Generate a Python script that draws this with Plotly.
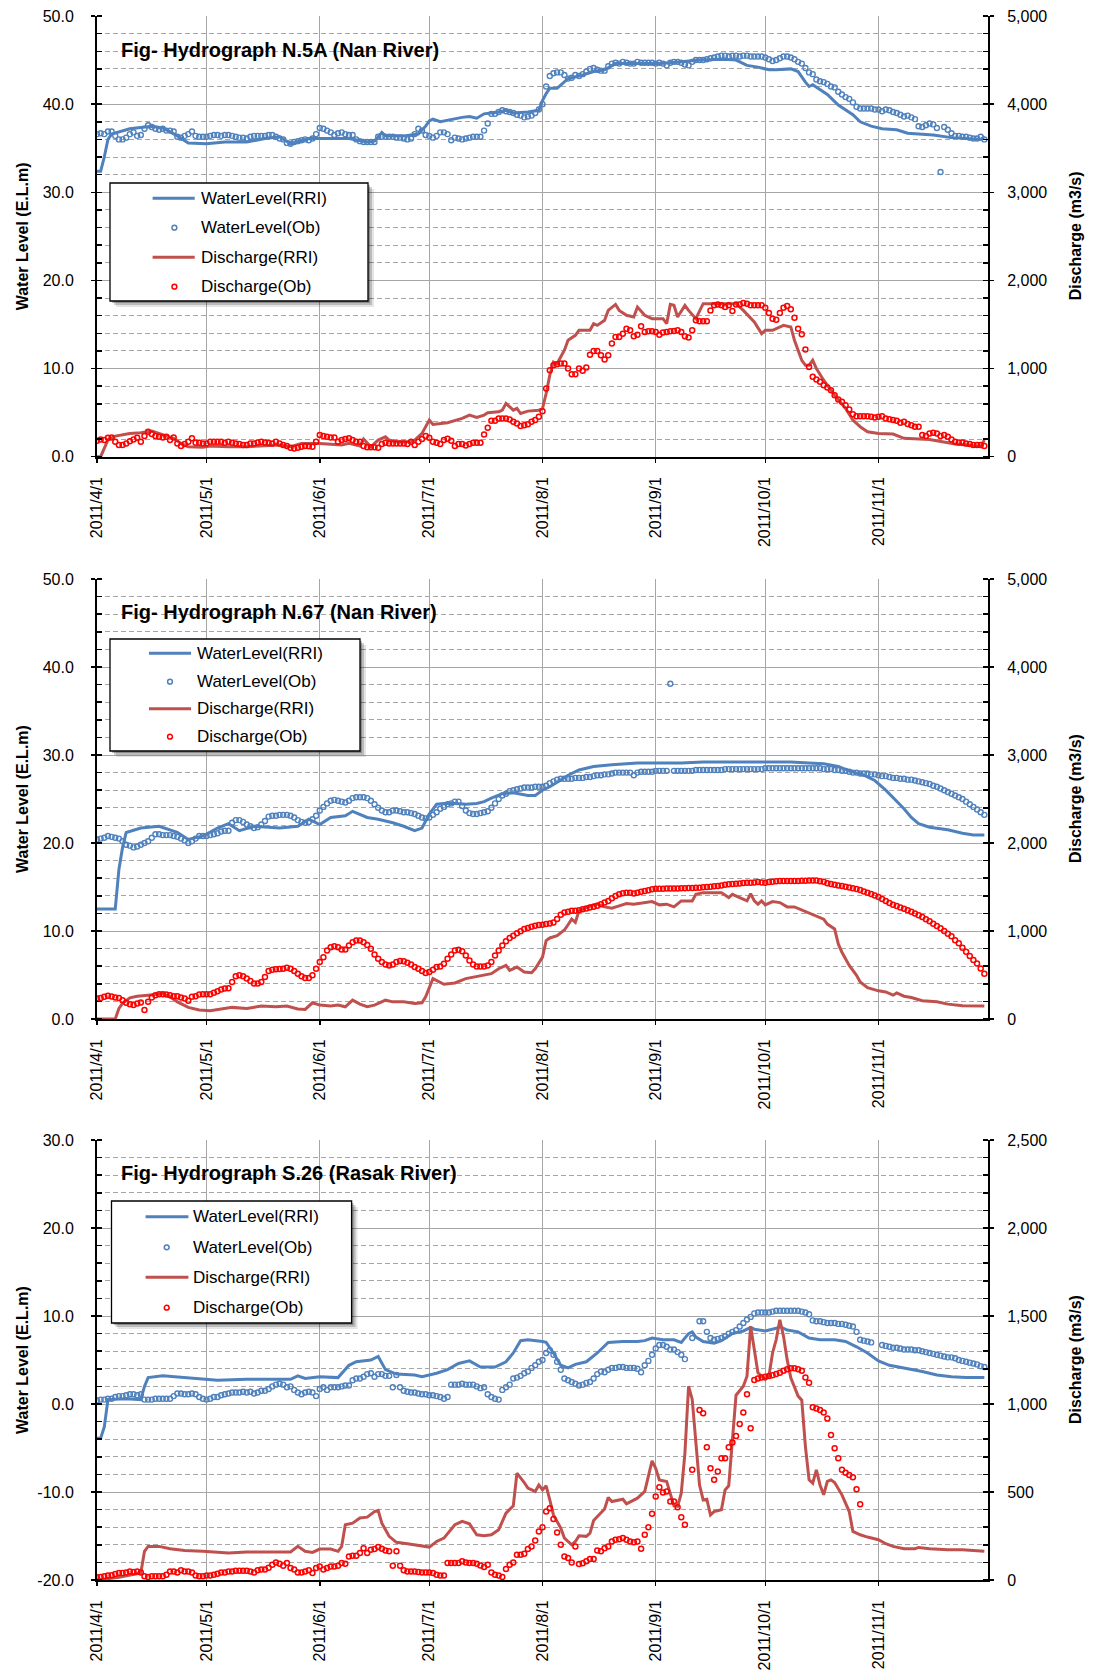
import pandas as pd
import plotly.graph_objects as go

# ---------------- data ----------------
START = "2011-04-01"
END = "2011-12-01"
N_DAYS = 244
month_ticks = ["2011-04-01", "2011-05-01", "2011-06-01", "2011-07-01",
               "2011-08-01", "2011-09-01", "2011-10-01", "2011-11-01"]
month_labels = ["2011/4/1", "2011/5/1", "2011/6/1", "2011/7/1",
                "2011/8/1", "2011/9/1", "2011/10/1", "2011/11/1"]

titles = ["Fig- Hydrograph N.5A (Nan River)",
          "Fig- Hydrograph N.67 (Nan River)",
          "Fig- Hydrograph S.26 (Rasak River)"]
series_names = ["WaterLevel(RRI)", "WaterLevel(Ob)", "Discharge(RRI)", "Discharge(Ob)"]

wl_ticks_a = [0, 10, 20, 30, 40, 50]
wl_labels_a = ["0.0", "10.0", "20.0", "30.0", "40.0", "50.0"]
q_ticks_a = [0, 1000, 2000, 3000, 4000, 5000]
q_labels_a = ["0", "1,000", "2,000", "3,000", "4,000", "5,000"]
wl_ticks_b = [-20, -10, 0, 10, 20, 30]
wl_labels_b = ["-20.0", "-10.0", "0.0", "10.0", "20.0", "30.0"]
q_ticks_b = [0, 500, 1000, 1500, 2000, 2500]
q_labels_b = ["0", "500", "1,000", "1,500", "2,000", "2,500"]

# --- Panel 1 : N.5A ---
p1_wl_rri = [(0,32.4),(1,32.4),(2,34.0),(3,36.0),(4,36.6),(9,37.2),(15,37.5),(18,37.3),(22,36.4),(25,35.6),(30,35.5),(35,35.7),(41,35.7),(46,36.1),(50,36.3),(53,35.5),(58,36.1),(61,36.1),(69,36.1),(74,35.7),(76,35.8),(78,36.8),(79,36.4),(84,36.4),(88,36.6),(90,37.5),(91,38.1),(92,38.3),(94,38.0),(100,38.5),(102,38.6),(104,38.4),(106,38.9),(110,39.1),(112,39.3),(114,39.0),(118,39.1),(121,39.3),(122,40.4),(123,41.2),(124,41.8),(126,41.8),(129,42.9),(133,43.3),(136,43.7),(139,43.9),(142,44.6),(146,44.6),(150,44.6),(154,44.6),(160,44.8),(165,45.0),(172,45.1),(175,45.0),(178,44.4),(181,44.2),(184,43.9),(186,43.9),(190,44.0),(192,43.7),(194,42.5),(195,42.0),(196,42.2),(200,41.1),(203,39.9),(207,38.8),(209,38.0),(212,37.5),(215,37.2),(219,37.1),(222,36.7),(229,36.5),(234,36.2),(242,36.0),(243,36.3)]
p1_q_rri = [(0,0),(1,0),(3,190),(4,215),(5,234),(9,264),(12,272),(15,290),(17,264),(19,234),(21,208),(23,151),(25,113),(29,106),(31,121),(36,113),(41,113),(46,125),(50,132),(53,113),(56,151),(61,151),(67,132),(69,151),(72,121),(73,200),(75,113),(77,189),(79,226),(80,189),(82,170),(86,170),(87,189),(89,264),(90,340),(91,415),(92,366),(96,385),(100,434),(102,472),(104,445),(106,472),(107,498),(110,509),(111,528),(112,604),(114,528),(115,547),(116,490),(118,517),(121,528),(122,547),(123,717),(124,925),(125,1075),(126,1057),(128,1208),(129,1321),(131,1377),(132,1434),(135,1434),(136,1509),(137,1490),(139,1547),(140,1660),(142,1728),(143,1660),(145,1604),(147,1585),(148,1698),(150,1604),(152,1566),(155,1566),(156,1509),(157,1728),(158,1717),(159,1585),(161,1717),(162,1660),(164,1566),(166,1736),(175,1736),(177,1660),(179,1566),(180,1528),(182,1396),(183,1434),(185,1434),(187,1472),(188,1491),(190,1472),(191,1321),(193,1094),(194,1038),(195,1038),(196,1094),(197,1000),(199,868),(202,698),(205,547),(207,415),(209,340),(211,283),(214,264),(218,257),(221,208),(228,196),(231,170),(235,143),(238,132),(242,113),(243,189)]
p1_wl_ob = [
    36.6, 36.7, 36.6, 36.9, 36.9, 36.4, 36.0, 36.0, 36.2, 36.6,
    36.8, 36.4, 36.5, 37.2, 37.6, 37.4, 37.2, 37.1, 37.2, 37.0,
    37.0, 36.9, 36.3, 36.2, 36.4, 36.6, 36.9, 36.4, 36.3, 36.3,
    36.3, 36.4, 36.5, 36.5, 36.4, 36.5, 36.5, 36.4, 36.3, 36.2,
    36.2, 36.1, 36.3, 36.4, 36.4, 36.4, 36.4, 36.5, 36.5, 36.3,
    36.1, 36.0, 35.6, 35.5, 35.7, 35.8, 35.9, 36.0, 35.9, 36.1,
    36.6, 37.3, 37.2, 37.0, 36.8, 36.5, 36.7, 36.8, 36.6, 36.5,
    36.5, 36.0, 35.8, 35.7, 35.7, 35.7, 35.7, 36.3, 36.3, 36.3,
    36.3, 36.3, 36.2, 36.2, 36.1, 36.0, 36.1, 36.6, 37.2, 37.0,
    36.5, 36.4, 36.2, 36.4, 36.8, 36.8, 36.6, 35.9, 36.2, 36.1,
    36.0, 36.1, 36.2, 36.3, 36.3, 36.3, 37.0, 37.8, 38.9, 38.9,
    39.1, 39.3, 39.2, 39.1, 39.0, 38.8, 38.7, 38.5, 38.6, 38.7,
    39.0, 39.4, 40.0, 42.0, 43.2, 43.5, 43.6, 43.6, 43.3, 42.9,
    43.0, 43.3, 43.2, 43.4, 43.7, 44.0, 44.1, 43.9, 43.8, 43.8,
    44.3, 44.6, 44.7, 44.6, 44.8, 44.7, 44.6, 44.6, 44.8, 44.7,
    44.7, 44.7, 44.7, 44.6, 44.7, 44.6, 44.4, 44.7, 44.8, 44.8,
    44.7, 44.5, 44.4, 44.8, 45.0, 45.0, 45.0, 45.1, 45.2, 45.3,
    45.4, 45.5, 45.5, 45.4, 45.5, 45.5, 45.4, 45.5, 45.5, 45.4,
    45.4, 45.4, 45.4, 45.3, 45.1, 44.9, 45.0, 45.2, 45.4, 45.4,
    45.3, 45.1, 44.8, 44.6, 44.1, 43.6, 43.4, 42.8, 42.6, 42.5,
    42.3, 42.0, 41.9, 41.4, 41.1, 40.8, 40.6, 40.2, 39.7, 39.5,
    39.5, 39.5, 39.5, 39.4, 39.4, 39.2, 39.4, 39.3, 39.1, 39.0,
    38.8, 38.6, 38.7, 38.5, 38.3, 37.5, 37.4, 37.6, 37.8, 37.7,
    37.3, 32.3, 37.4, 37.1, 36.7, 36.4, 36.4, 36.3, 36.3, 36.2,
    36.1, 36.1, 36.3, 36.0]
p1_q_ob = [
    181, 196, 189, 215, 219, 170, 132, 132, 151, 175,
    196, 215, 170, 234, 283, 257, 234, 226, 219, 226,
    189, 219, 151, 121, 144, 170, 208, 159, 159, 151,
    151, 170, 170, 170, 170, 159, 170, 159, 151, 144,
    132, 132, 151, 151, 160, 170, 162, 155, 151, 170,
    151, 132, 121, 102, 94, 102, 113, 121, 118, 113,
    170, 245, 234, 226, 219, 219, 170, 189, 200, 208,
    189, 170, 170, 121, 106, 106, 106, 102, 143, 158,
    151, 151, 151, 151, 151, 143, 170, 132, 170, 200,
    234, 215, 170, 158, 143, 189, 204, 181, 121, 143,
    143, 128, 143, 158, 158, 158, 253, 328, 408, 408,
    434, 434, 434, 423, 396, 377, 347, 358, 368, 396,
    415, 453, 517, 774, 981, 1038, 1049, 1057, 1057, 1000,
    936, 936, 1000, 974, 1011, 1158, 1200, 1200, 1151, 1102,
    1151, 1283, 1358, 1358, 1396, 1453, 1434, 1366, 1385, 1479,
    1415, 1422, 1422, 1415, 1385, 1408, 1415, 1422, 1426, 1434,
    1415, 1366, 1351, 1434, 1547, 1536, 1536, 1536, 1660, 1717,
    1728, 1717, 1698, 1717, 1653, 1728, 1728, 1743, 1736, 1717,
    1717, 1717, 1717, 1691, 1630, 1566, 1555, 1630, 1691, 1709,
    1672, 1577, 1453, 1389, 1215, 1019, 906, 876, 849, 811,
    785, 755, 698, 649, 623, 585, 536, 483, 460, 460,
    460, 460, 453, 445, 453, 460, 434, 426, 415, 408,
    385, 396, 370, 358, 340, 340, 245, 234, 264, 272,
    264, 234, 245, 226, 196, 170, 160, 160, 151, 143,
    132, 132, 132, 121]

# --- Panel 2 : N.67 ---
p2_wl_rri = [(0,12.5),(5,12.5),(6,17.0),(7,19.5),(8,21.2),(12,21.7),(17,21.9),(22,21.2),(25,20.4),(29,20.8),(33,21.7),(36,22.2),(39,21.4),(43,21.9),(47,21.8),(50,21.7),(55,21.9),(58,22.7),(61,22.1),(64,22.9),(68,23.1),(70,23.6),(74,22.9),(77,22.7),(81,22.3),(84,21.9),(87,21.4),(89,21.7),(91,23.3),(93,24.4),(95,24.5),(98,24.5),(101,24.4),(104,24.5),(106,24.7),(108,25.1),(111,25.6),(114,25.7),(118,25.4),(120,25.4),(122,26.0),(124,26.4),(126,26.9),(129,27.7),(132,28.3),(136,28.7),(141,28.9),(148,29.1),(154,29.1),(160,29.1),(166,29.2),(172,29.2),(178,29.2),(184,29.2),(190,29.2),(195,29.1),(199,29.0),(203,28.7),(206,28.2),(210,27.7),(213,27.1),(216,26.0),(219,24.8),(221,23.9),(223,22.9),(225,22.2),(228,21.8),(233,21.5),(237,21.1),(240,20.9),(243,20.9)]
p2_q_rri = [(0,0),(5,0),(6,120),(7,177),(9,241),(11,259),(14,271),(16,282),(18,289),(20,252),(22,195),(25,132),(28,102),(31,94),(33,109),(37,132),(41,120),(45,147),(49,139),(52,147),(55,113),(57,109),(59,184),(61,158),(64,147),(66,158),(68,139),(70,214),(72,169),(74,139),(76,158),(77,177),(79,214),(81,195),(84,195),(87,177),(89,184),(90,252),(92,459),(95,395),(98,410),(101,459),(103,477),(106,496),(108,515),(110,571),(112,609),(113,553),(115,590),(117,534),(119,525),(120,571),(122,703),(123,891),(124,921),(126,947),(128,1011),(129,1071),(130,1135),(131,1098),(132,1229),(135,1286),(137,1305),(139,1274),(141,1259),(143,1286),(145,1312),(147,1305),(150,1323),(152,1335),(154,1297),(156,1305),(158,1274),(160,1342),(163,1342),(164,1417),(166,1436),(171,1436),(173,1380),(174,1417),(176,1380),(178,1342),(179,1425),(180,1342),(181,1305),(182,1342),(183,1297),(185,1335),(187,1323),(189,1274),(191,1274),(193,1237),(194,1222),(196,1184),(199,1135),(200,1079),(202,1023),(203,853),(204,759),(206,609),(208,496),(209,421),(211,357),(214,320),(216,308),(218,271),(219,297),(221,259),(223,244),(226,207),(230,195),(233,169),(237,150),(243,147)]
p2_wl_ob = [
    20.4, 20.5, 20.6, 20.8, 20.7, 20.6, 20.5, 20.2, 19.8, 19.7,
    19.5, 19.6, 19.8, 20.0, 20.2, 20.6, 21.0, 21.0, 20.9, 20.9,
    20.9, 20.8, 20.7, 20.5, 20.3, 20.0, 20.2, 20.5, 20.8, 20.8,
    20.8, 20.9, 21.0, 21.1, 21.3, 21.4, 21.4, 22.3, 22.6, 22.6,
    22.4, 22.1, 21.9, 21.7, 21.8, 22.1, 22.5, 23.0, 23.1, 23.1,
    23.2, 23.2, 23.2, 23.1, 22.9, 22.6, 22.4, 22.3, 22.4, 22.7,
    23.1, 23.7, 24.1, 24.5, 24.8, 24.9, 24.8, 24.7, 24.6, 24.8,
    25.1, 25.2, 25.2, 25.2, 25.1, 24.8, 24.4, 24.0, 23.7, 23.5,
    23.5, 23.7, 23.7, 23.6, 23.5, 23.5, 23.4, 23.3, 23.1, 22.9,
    22.8, 22.9, 23.2, 23.5, 23.9, 24.1, 24.4, 24.5, 24.7, 24.7,
    24.2, 23.7, 23.4, 23.3, 23.3, 23.4, 23.5, 23.6, 24.0, 24.5,
    25.0, 25.4, 25.6, 25.9, 26.0, 26.1, 26.2, 26.3, 26.3, 26.3,
    26.4, 26.4, 26.4, 26.5, 26.8, 27.0, 27.2, 27.3, 27.3, 27.3,
    27.3, 27.4, 27.4, 27.4, 27.5, 27.5, 27.6, 27.7, 27.7, 27.8,
    27.8, 27.9, 28.0, 28.0, 28.0, 28.0, 28.0, 27.7, 28.0, 28.1,
    28.1, 28.1, 28.1, 28.2, 28.2, 28.2, 28.2, 38.1, 28.2, 28.2,
    28.2, 28.2, 28.2, 28.2, 28.3, 28.3, 28.3, 28.3, 28.3, 28.3,
    28.3, 28.3, 28.4, 28.4, 28.4, 28.4, 28.4, 28.4, 28.4, 28.4,
    28.4, 28.4, 28.4, 28.5, 28.5, 28.5, 28.5, 28.5, 28.5, 28.5,
    28.5, 28.5, 28.5, 28.5, 28.5, 28.5, 28.5, 28.5, 28.5, 28.4,
    28.4, 28.4, 28.3, 28.3, 28.2, 28.2, 28.1, 28.0, 28.0, 27.9,
    27.9, 27.9, 27.8, 27.8, 27.7, 27.6, 27.6, 27.5, 27.4, 27.4,
    27.3, 27.3, 27.2, 27.2, 27.1, 27.0, 26.9, 26.8, 26.7, 26.5,
    26.4, 26.2, 26.0, 25.8, 25.6, 25.4, 25.2, 25.0, 24.7, 24.4,
    24.1, 23.8, 23.5, 23.2]
p2_q_ob = [
    233, 240, 252, 263, 255, 244, 240, 214, 184, 169,
    158, 177, 188, 102, 195, 244, 271, 282, 282, 278,
    271, 259, 259, 244, 233, 207, 252, 259, 278, 282,
    282, 282, 297, 316, 335, 346, 350, 421, 485, 496,
    485, 459, 432, 402, 402, 421, 477, 545, 560, 564,
    568, 571, 583, 571, 545, 515, 485, 466, 466, 496,
    571, 647, 703, 778, 816, 827, 816, 789, 789, 835,
    872, 891, 891, 872, 842, 797, 733, 684, 647, 620,
    609, 620, 647, 658, 655, 639, 620, 590, 571, 545,
    523, 534, 560, 590, 598, 628, 684, 733, 778, 786,
    771, 722, 665, 620, 598, 598, 598, 609, 647, 722,
    778, 835, 883, 921, 947, 974, 996, 1023, 1034, 1049,
    1060, 1068, 1071, 1079, 1086, 1098, 1135, 1184, 1210, 1220,
    1229, 1229, 1235, 1248, 1255, 1267, 1276, 1286, 1305, 1323,
    1342, 1372, 1398, 1417, 1429, 1436, 1436, 1425, 1436, 1447,
    1455, 1462, 1474, 1481, 1481, 1481, 1483, 1483, 1483, 1484,
    1485, 1487, 1488, 1490, 1491, 1492, 1496, 1500, 1504, 1508,
    1511, 1518, 1525, 1530, 1535, 1538, 1541, 1545, 1547, 1549,
    1552, 1556, 1552, 1549, 1556, 1560, 1564, 1568, 1568, 1568,
    1568, 1568, 1568, 1570, 1572, 1574, 1575, 1575, 1566, 1560,
    1543, 1535, 1526, 1518, 1512, 1503, 1494, 1486, 1477, 1465,
    1450, 1436, 1420, 1402, 1385, 1363, 1340, 1318, 1299, 1283,
    1268, 1253, 1237, 1218, 1199, 1180, 1160, 1133, 1110, 1083,
    1057, 1030, 1000, 970, 940, 895, 860, 810, 765, 715,
    670, 630, 575, 515]

# --- Panel 3 : S.26 ---
p3_wl_rri = [(0,-3.9),(1,-3.9),(2,-2.6),(3,0.5),(8,0.6),(12,0.5),(13,2.0),(14,3.0),(18,3.2),(24,3.0),(29,2.9),(33,2.7),(41,2.8),(49,2.8),(53,2.8),(55,3.2),(57,2.9),(61,3.1),(66,3.0),(69,4.4),(71,4.8),(75,5.0),(77,5.4),(79,3.9),(82,3.4),(87,3.3),(89,3.1),(93,3.5),(96,3.9),(99,4.6),(102,4.9),(105,4.2),(109,4.2),(112,4.8),(114,5.8),(116,7.2),(118,7.3),(122,7.1),(123,7.0),(125,5.8),(127,4.4),(129,4.1),(131,4.5),(134,4.8),(137,5.8),(140,7.0),(144,7.1),(148,7.1),(150,7.2),(152,7.5),(155,7.3),(158,7.3),(160,7.0),(162,8.0),(163,8.2),(164,7.6),(166,7.1),(169,6.9),(171,7.2),(174,8.0),(177,8.3),(179,8.7),(180,8.5),(183,8.3),(186,8.6),(187,8.8),(189,8.4),(192,8.2),(195,7.5),(198,7.3),(202,7.3),(205,7.1),(208,6.5),(211,5.8),(214,4.9),(217,4.4),(221,4.1),(226,3.7),(230,3.3),(234,3.1),(238,3.0),(243,3.0)]
p3_q_rri = [(0,0),(6,15),(12,40),(13,163),(14,191),(17,191),(20,178),(24,168),(29,163),(33,157),(36,153),(41,159),(47,159),(53,159),(55,191),(57,163),(59,157),(61,176),(64,176),(66,163),(67,191),(68,314),(70,323),(72,352),(74,357),(76,389),(77,395),(78,323),(80,248),(82,214),(85,206),(87,200),(89,191),(91,187),(93,219),(95,238),(98,314),(100,333),(102,319),(104,257),(106,251),(108,257),(110,285),(112,380),(114,421),(115,607),(117,554),(118,522),(120,503),(121,540),(122,512),(123,535),(124,455),(125,370),(127,295),(128,238),(130,200),(131,219),(132,251),(134,248),(135,266),(136,338),(139,403),(140,469),(141,446),(144,459),(145,433),(147,455),(148,465),(150,503),(152,677),(153,635),(154,569),(156,560),(157,484),(158,421),(159,418),(160,493),(161,720),(162,1101),(163,1026),(164,777),(165,540),(166,455),(167,459),(168,370),(169,389),(171,399),(172,512),(173,535),(174,777),(175,1050),(177,1101),(178,1158),(179,1442),(180,1300),(181,1177),(183,1139),(184,1158),(185,1290),(186,1366),(187,1479),(188,1385),(189,1252),(190,1149),(192,1045),(193,1022),(194,758),(195,569),(196,550),(197,626),(198,540),(199,484),(200,560),(201,569),(202,554),(204,484),(206,389),(207,276),(209,257),(211,244),(214,229),(216,206),(218,191),(221,178),(224,178),(225,185),(228,178),(233,172),(237,172),(243,163)]
p3_wl_ob = [
    0.4, 0.5, 0.5, 0.6, 0.6, 0.8, 0.9, 0.9, 1.0, 1.1,
    1.1, 1.0, 1.1, 0.5, 0.5, 0.5, 0.6, 0.6, 0.6, 0.6,
    0.6, 0.9, 1.2, 1.2, 1.1, 1.1, 1.2, 1.1, 0.8, 0.6,
    0.5, 0.6, 0.8, 0.8, 1.0, 1.1, 1.2, 1.3, 1.3, 1.3,
    1.4, 1.3, 1.4, 1.2, 1.3, 1.5, 1.5, 1.7, 2.0, 2.2,
    2.3, 2.2, 1.9, 2.0, 1.6, 1.3, 1.1, 1.3, 1.4, 1.3,
    0.9, 1.7, 1.9, 1.6, 1.9, 1.9, 1.9, 2.0, 2.1, 2.1,
    2.7, 2.9, 2.9, 3.1, 3.4, 3.5, 3.1, 3.4, 3.4, 3.2,
    3.2, 1.9, 3.3, 1.9, 1.5, 1.4, 1.3, 1.3, 1.2, 1.1,
    1.1, 1.0, 1.0, 0.9, 0.8, 0.6, 0.8, 2.2, 2.2, 2.2,
    2.3, 2.2, 2.2, 2.2, 2.0, 1.8, 1.9, 1.1, 0.8, 0.6,
    0.5, 1.6, 1.9, 2.2, 2.9, 3.0, 3.2, 3.5, 3.7, 4.1,
    4.4, 4.8, 5.0, 5.8, 6.1, 5.6, 4.8, 3.9, 2.9, 2.7,
    2.5, 2.3, 2.1, 2.2, 2.4, 2.5, 2.9, 3.4, 3.7, 3.6,
    3.9, 4.1, 4.1, 4.2, 4.2, 4.1, 4.1, 4.1, 4.0, 3.6,
    4.4, 4.9, 5.6, 6.3, 6.7, 6.7, 6.5, 6.2, 6.2, 5.9,
    5.6, 5.1, None, 7.5, None, 9.4, 9.4, 8.2, 7.5, 7.3,
    7.4, 7.5, 7.7, 8.0, 8.2, 8.4, 8.8, 9.2, 9.6, 9.9,
    10.3, 10.4, 10.4, 10.4, 10.4, 10.5, 10.6, 10.6, 10.6, 10.6,
    10.6, 10.6, 10.6, 10.5, 10.4, 10.2, 9.5, 9.4, 9.4, 9.3,
    9.2, 9.2, 9.2, 9.1, 9.1, 9.0, 8.9, 8.8, 8.2, 7.3,
    7.2, 7.1, 7.0, None, None, 6.7, 6.6, 6.5, 6.4, 6.4,
    6.3, 6.2, 6.2, 6.2, 6.1, 6.1, 6.0, 5.9, 5.8, 5.7,
    5.6, 5.5, 5.4, 5.3, 5.3, 5.2, 5.0, 4.9, 4.8, 4.7,
    4.6, 4.5, 4.3, 4.2]
p3_q_ob = [
    15, 17, 21, 25, 27, 34, 40, 40, 43, 49,
    45, 49, 43, 21, 17, 21, 21, 21, 21, 30,
    49, 49, 43, 55, 49, 49, 43, 25, 21, 21,
    25, 25, 30, 36, 43, 43, 49, 49, 53, 53,
    53, 53, 49, 43, 55, 59, 59, 70, 87, 100,
    93, 81, 96, 68, 59, 43, 43, 49, 55, 40,
    68, 77, 59, 68, 77, 77, 81, 96, 93, 134,
    138, 138, 153, 181, 153, 172, 176, 187, 178, 168,
    163, 81, 163, 81, 55, 49, 49, 49, 45, 43,
    43, 43, 40, 30, 25, 25, 96, 96, 96, 96,
    106, 100, 96, 96, 93, 83, 74, 87, 43, 30,
    25, 17, 62, 87, 100, 144, 144, 149, 176, 191,
    225, 276, 300, 389, 408, 346, 270, 200, 134, 125,
    100, 191, 91, 95, 106, 119, 119, 168, 163, 181,
    191, 219, 229, 232, 238, 229, 219, 214, 219, 178,
    257, 300, 376, 474, 527, 497, 503, 446, 446, 414,
    357, 314, None, 626, None, 966, 947, 754, 635, 569,
    616, 692, 692, 754, 781, 818, 886, 951, 1055, 862,
    1136, 1145, 1151, 1155, 1159, 1164, 1170, 1178, 1189, 1197,
    1203, 1203, 1197, 1189, 1150, 1121, 981, 975, 966, 951,
    918, 824, 748, 692, 626, 610, 597, 584, 516, 431,
    None, None, None, None, None, None, None, None, None, None,
    None, None, None, None, None, None, None, None, None, None,
    None, None, None, None, None, None, None, None, None, None,
    None, None, None, None]

for arr in (p1_wl_ob, p1_q_ob, p2_wl_ob, p2_q_ob, p3_wl_ob, p3_q_ob):
    assert len(arr) == N_DAYS, len(arr)

# ---------------- layout geometry (pixels) ----------------
W, H = 1094, 1670
ML, MR, MT, MB = 97, 106, 16, 90
PW = W - ML - MR
PH = H - MT - MB
panel_px = [(16, 456.7), (579, 1019), (1140, 1580)]   # top, bottom of each plot area


def fx(x):
    return (x - ML) / PW


def fy(y):
    return (H - MB - y) / PH


BLUE = "#4F81BD"
RED_LINE = "#C0504D"
RED_MK = "#FF0000"
GRID = "#A6A6A6"
FONT = "Liberation Sans, Arial, sans-serif"

obs_dates = pd.date_range(START, periods=N_DAYS, freq="D")


def line_xy(pts):
    t0 = pd.Timestamp(START)
    return [t0 + pd.Timedelta(days=d) for d, _ in pts], [v for _, v in pts]


panels = [
    dict(wl_rri=p1_wl_rri, q_rri=p1_q_rri, wl_ob=p1_wl_ob, q_ob=p1_q_ob,
         wl_rng=[0, 50], q_rng=[0, 5000], wl_t=(wl_ticks_a, wl_labels_a), q_t=(q_ticks_a, q_labels_a), q_minor=200),
    dict(wl_rri=p2_wl_rri, q_rri=p2_q_rri, wl_ob=p2_wl_ob, q_ob=p2_q_ob,
         wl_rng=[0, 50], q_rng=[0, 5000], wl_t=(wl_ticks_a, wl_labels_a), q_t=(q_ticks_a, q_labels_a), q_minor=200),
    dict(wl_rri=p3_wl_rri, q_rri=p3_q_rri, wl_ob=p3_wl_ob, q_ob=p3_q_ob,
         wl_rng=[-20, 30], q_rng=[0, 2500], wl_t=(wl_ticks_b, wl_labels_b), q_t=(q_ticks_b, q_labels_b), q_minor=100),
]

fig = go.Figure()
layout = dict(
    width=W, height=H, margin=dict(l=ML, r=MR, t=MT, b=MB, pad=0, autoexpand=False),
    paper_bgcolor="white", plot_bgcolor="white", showlegend=False,
    font=dict(family=FONT, size=16, color="#000"),
)
shapes = []
annotations = []

for i, p in enumerate(panels):
    xa = "x" if i == 0 else f"x{i + 1}"
    ya = "y" if i == 0 else f"y{2 * i + 1}"
    yb = f"y{2 * i + 2}"
    xkey = "xaxis" if i == 0 else f"xaxis{i + 1}"
    ykey = "yaxis" if i == 0 else f"yaxis{2 * i + 1}"
    y2key = f"yaxis{2 * i + 2}"
    top, bot = panel_px[i]
    dom = [fy(bot), fy(top)]

    lx, ly = line_xy(p["wl_rri"])
    fig.add_trace(go.Scatter(x=lx, y=ly, mode="lines", name=series_names[0],
                             line=dict(color=BLUE, width=3), xaxis=xa, yaxis=ya))
    fig.add_trace(go.Scatter(x=obs_dates, y=p["wl_ob"], mode="markers", name=series_names[1],
                             marker=dict(symbol="circle-open", size=5, color=BLUE, line=dict(width=1.4)),
                             xaxis=xa, yaxis=ya))
    lx, ly = line_xy(p["q_rri"])
    fig.add_trace(go.Scatter(x=lx, y=ly, mode="lines", name=series_names[2],
                             line=dict(color=RED_LINE, width=3), xaxis=xa, yaxis=yb))
    fig.add_trace(go.Scatter(x=obs_dates, y=p["q_ob"], mode="markers", name=series_names[3],
                             marker=dict(symbol="circle-open", size=5, color=RED_MK, line=dict(width=1.5)),
                             xaxis=xa, yaxis=yb))

    layout[xkey] = dict(
        domain=[0, 1], anchor=ya, type="date", range=[START, END], automargin=False,
        tickmode="array", tickvals=month_ticks, ticktext=month_labels, tickangle=-90,
        showgrid=True, gridcolor=GRID, gridwidth=1,
        ticks="outside", ticklen=4, tickcolor="black", tickwidth=1.5,
        showline=True, linecolor="black", linewidth=2, zeroline=False,
        tickfont=dict(size=16, family=FONT, color="#000"), ticklabelstandoff=8,
    )
    layout[ykey] = dict(
        domain=dom, anchor=xa, range=p["wl_rng"], automargin=False,
        tickmode="array", tickvals=p["wl_t"][0], ticktext=p["wl_t"][1],
        showgrid=True, gridcolor=GRID, gridwidth=1, zeroline=False,
        ticks="outside", ticklen=4, tickcolor="black", tickwidth=1.5,
        minor=dict(dtick=2, tick0=0, ticks="inside", ticklen=5, tickcolor="black", tickwidth=1.5,
                   showgrid=True, gridcolor=GRID, gridwidth=1, griddash="5px,3px"),
        showline=True, linecolor="black", linewidth=2,
        tickfont=dict(size=16, family=FONT, color="#000"), ticklabelstandoff=14,
    )
    layout[y2key] = dict(
        overlaying=ya, side="right", anchor=xa, range=p["q_rng"], automargin=False,
        tickmode="array", tickvals=p["q_t"][0], ticktext=p["q_t"][1],
        showgrid=False, zeroline=False,
        ticks="outside", ticklen=4, tickcolor="black", tickwidth=1.5,
        minor=dict(dtick=p["q_minor"], tick0=0, ticks="inside", ticklen=5, tickcolor="black",
                   tickwidth=1.5, showgrid=False),
        showline=True, linecolor="black", linewidth=2,
        tickfont=dict(size=16, family=FONT, color="#000"), ticklabelstandoff=10,
    )

    # axis titles
    cy = fy((top + bot) / 2)
    annotations.append(dict(xref="paper", yref="paper", x=fx(22), y=cy, text="<b>Water Level (E.L.m)</b>",
                            textangle=-90, showarrow=False, xanchor="center", yanchor="middle",
                            font=dict(size=16, family=FONT, color="#000")))
    annotations.append(dict(xref="paper", yref="paper", x=fx(1075), y=cy, text="<b>Discharge (m3/s)</b>",
                            textangle=-90, showarrow=False, xanchor="center", yanchor="middle",
                            font=dict(size=16, family=FONT, color="#000")))
    # chart title inside plot area
    title_y = [50, 612, 1173][i]
    annotations.append(dict(xref="paper", yref="paper", x=fx(119), y=fy(title_y), text=f"<b>{titles[i]}</b>",
                            showarrow=False, xanchor="left", yanchor="middle",
                            font=dict(size=20, family=FONT, color="#000")))

# ---------------- legends (drawn as boxes) ----------------
legend_geo = [
    dict(box=(110, 183, 368, 301), rows=[198.3, 227.7, 257.3, 286.7], line=(152.6, 194.7), mark=174.4, text=199),
    dict(box=(110, 639, 360, 751), rows=[653.3, 681.7, 708.7, 736.7], line=(149, 191), mark=170, text=195.4),
    dict(box=(111.5, 1201, 351.6, 1323), rows=[1216.7, 1247.3, 1277.3, 1307.7], line=(145.6, 188.4), mark=166.7, text=191.2),
]
legend_style = [("line", BLUE), ("marker", BLUE), ("line", RED_LINE), ("marker", RED_MK)]
for g in legend_geo:
    x0, y0, x1, y1 = g["box"]
    for off, alpha in ((6, 0.10), (4, 0.18), (2, 0.25)):
        shapes.append(dict(type="rect", xref="paper", yref="paper", x0=fx(x0 + off), x1=fx(x1 + off),
                           y0=fy(y1 + off), y1=fy(y0 + off), fillcolor=f"rgba(0,0,0,{alpha})",
                           line=dict(width=0), layer="above"))
    shapes.append(dict(type="rect", xref="paper", yref="paper", x0=fx(x0), x1=fx(x1), y0=fy(y1), y1=fy(y0),
                       fillcolor="white", line=dict(color="black", width=1.3), layer="above"))
    for (kind, color), yrow, name in zip(legend_style, g["rows"], series_names):
        if kind == "line":
            shapes.append(dict(type="line", xref="paper", yref="paper", x0=fx(g["line"][0]), x1=fx(g["line"][1]),
                               y0=fy(yrow), y1=fy(yrow), line=dict(color=color, width=3), layer="above"))
        else:
            r = 2.4
            shapes.append(dict(type="circle", xref="paper", yref="paper", x0=fx(g["mark"] - r), x1=fx(g["mark"] + r),
                               y0=fy(yrow + r), y1=fy(yrow - r), fillcolor="white",
                               line=dict(color=color, width=1.5), layer="above"))
        annotations.append(dict(xref="paper", yref="paper", x=fx(g["text"]), y=fy(yrow), text=name,
                                showarrow=False, xanchor="left", yanchor="middle",
                                font=dict(size=17, family=FONT, color="#000")))

layout["shapes"] = shapes
layout["annotations"] = annotations
fig.update_layout(**layout)
fig.write_html("out.html",
               config={"displayModeBar": False, "staticPlot": True},
               post_script="document.body.style.margin='0';document.body.style.padding='0';"
                           "document.body.style.overflow='hidden';")
